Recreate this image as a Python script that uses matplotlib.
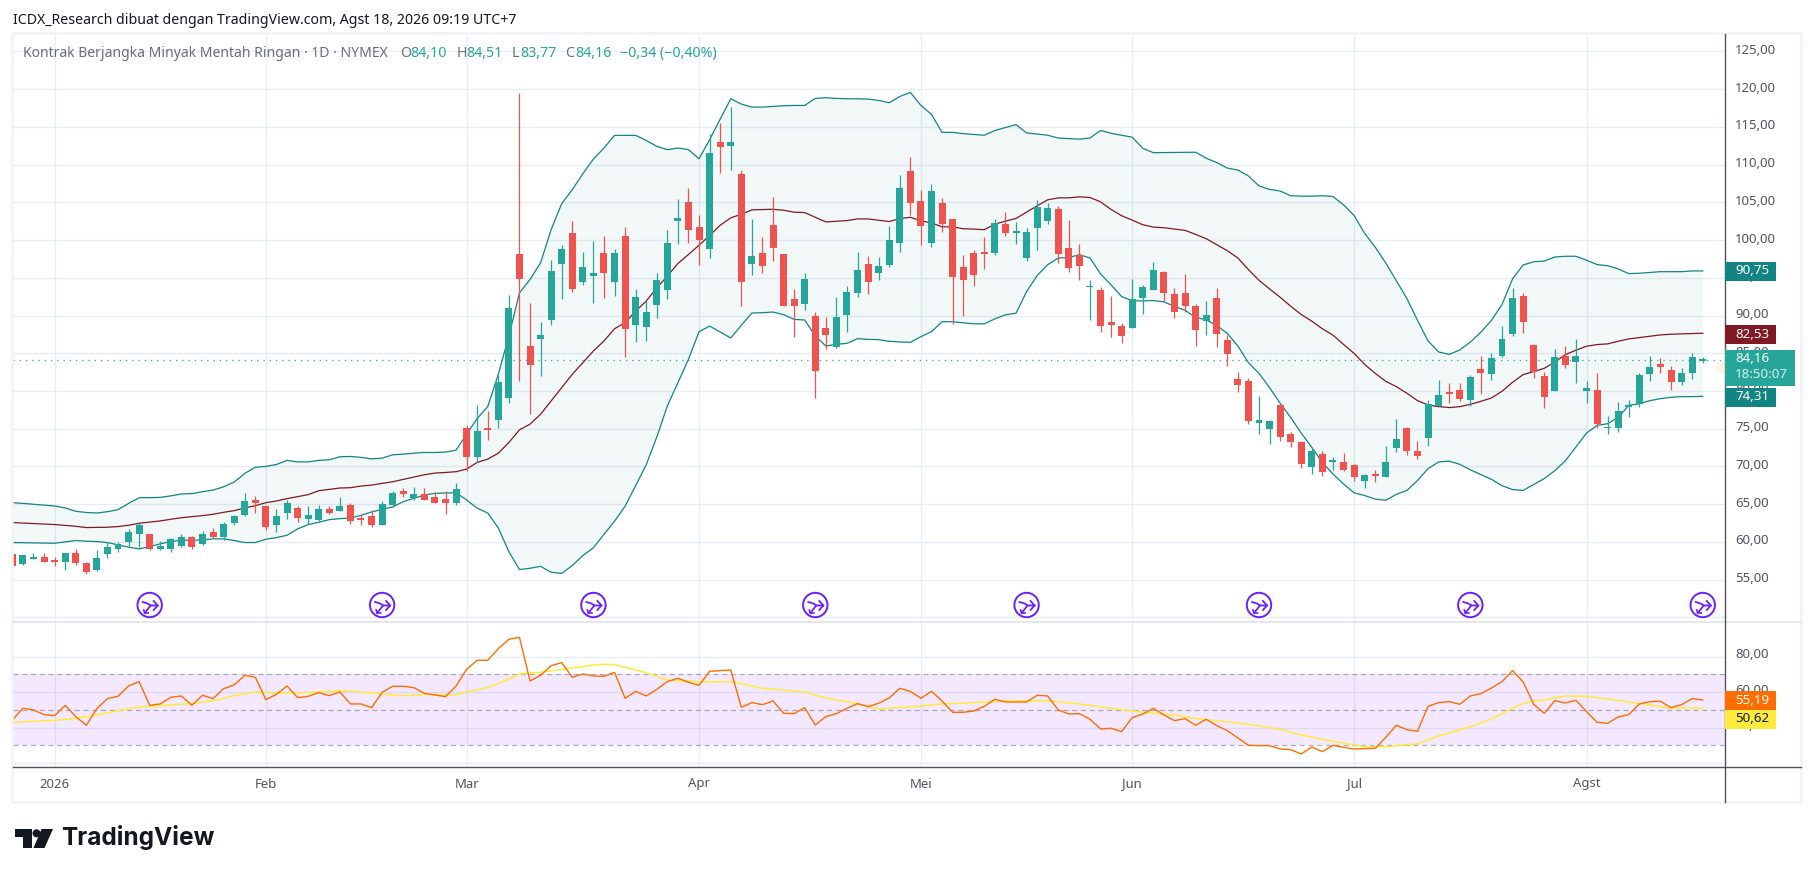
import matplotlib
matplotlib.use("Agg")
import matplotlib.pyplot as plt
from matplotlib.patches import Circle, Polygon, Rectangle

first_day = -4
opens = [58.4,57.1,57.8,58.0,57.5,57.4,58.5,57.2,56.3,58.4,59,60,61.1,61,59.1,59,59.5,60.7,59.7,61.3,60.7,62.5,63.5,65.5,64.8,62.2,63.8,64.5,63,62.9,64.4,64.1,64.9,63.1,63.4,62.2,64.9,66.7,65.8,66.3,66,65.7,65.2,
 75.07,71.28,74.95,76.17,79.08,98.09,85.92,86.84,89.36,96.76,101,94.38,95.18,98.22,94.38,100.6,88.7,88.43,91.34,93.32,102.58,105.1,101.79,98.88,113.03,112.5,108.8,96.76,98.35,102.05,98.09,92.13,91.47,89.89,88.3,85.78,90.02,92.93,96.76,95.57,96.63,99.67,109.2,105.23,99.67,104.97,102.85,96.37,
 98.28,98.3,98.28,102.11,100.93,97.62,101.59,102.51,104.1,98.94,98.02,93.79,93.39,89.16,88.63,88.37,92.33,93.39,95.77,92.86,92.99,91.28,89.3,92.33,
 86.7,81.54,81.28,75.73,74.93,78.11,74.27,73.22,69.91,71.63,70.57,70.57,70.18,68.06,68.85,68.59,72.42,75.07,72.03,73.74,77.97,79.82,80.09,
 78.85,82.96,82.3,84.69,87.61,92.65,86.15,82.04,80.04,84.69,83.89,80.04,80.18,75.1,75.13,78.0,78.32,82.3,83.63,82.83,81.24,82.43,84.10]
highs = [58.4,58.3,58.5,58.5,58.0,58.5,59.0,57.3,58.9,60,60,61.7,62.5,61,60.1,60.5,61,60.8,61.5,61.8,62.7,63.6,66.5,66.1,64.8,64.3,65.6,64.8,64.7,64.9,64.8,65.9,65.2,63.5,64.2,65.4,66.8,67.1,67.3,67.1,66.6,66.7,67.8,
 75.47,78.11,77.32,82.35,92.66,119.5,91.6,89.09,97.29,99.41,102.58,98.48,99.94,100.6,98.88,101.79,93.46,91.87,95.57,101.39,105.49,106.95,103.38,114.09,115.55,117.66,109.33,102.85,100.47,105.76,98.09,93.46,95.57,90.41,89.75,92.4,93.85,98.48,97.95,97.82,101.92,108.67,111.05,106.68,107.48,105.63,102.85,98.05,
 98.68,100.4,102.78,103.7,102.38,101.59,105.29,104.89,104.49,102.64,99.47,94.71,93.79,92.6,89.03,94.85,94.05,97.09,95.9,93.66,95.51,91.54,91.94,93.68,
 87.36,82.47,81.67,79.3,76.12,78.24,74.54,73.35,72.64,72.03,71.23,71.76,70.31,68.99,69.52,72.69,76.26,75.2,73.35,78.77,81.41,81.01,81.01,
 82.17,84.69,85.09,88.67,93.58,92.92,86.28,82.57,85.62,86.02,86.95,81.37,82.43,76.73,78.58,78.85,82.43,84.69,84.42,83.36,83.1,85.09,84.51]
lows = [56.8,57.0,57.7,57.3,56.75,56.3,56.9,55.8,56.1,57.8,58.6,59.5,59.3,58.9,58.9,58.7,59.3,59.1,59.6,60.5,60.3,62.3,63.4,63.8,61.6,61.3,63,62.7,62.4,62.8,63.7,64.1,62.4,62.2,62,62.2,64.6,65.9,65.5,65.5,65.1,63.7,64.9,
 69.43,70.62,73.48,75.07,78.42,81.33,76.92,81.95,88.7,92.13,93.06,93.99,91.6,92.27,92.53,84.46,86.45,86.58,89.62,92.13,99.54,99.67,96.63,97.56,108.93,109.33,91.2,95.31,95.57,97.16,91.2,87.11,90.68,79.04,85.52,85.65,87.77,92.4,92.8,94.65,96.37,98.48,103.38,99.41,99.14,101.13,88.83,89.98,
 93.92,96.17,98.02,100.53,99.47,97.22,98.68,102.11,96.96,95.77,94.71,89.43,87.84,87.18,86.39,88.37,90.22,93.39,91.94,89.69,90.48,85.99,87.44,85.88,
 83.26,79.82,75.6,74.27,72.95,73.35,72.56,69.78,68.99,68.72,69.52,69.38,68.06,67.14,67.93,68.59,71.89,71.5,70.97,72.69,77.97,78.37,78.7,
 78.05,79.65,81.5,84.56,87.35,87.74,81.77,77.79,80.04,83.1,81.1,78.45,75.13,74.34,74.6,76.59,77.92,81.37,82.43,80.18,80.84,81.64,83.77]
closes = [56.8,58.2,58.0,57.4,57.45,58.5,57.2,56.0,57.8,59.3,59.7,61.3,62.2,59,59.4,60.4,60.7,59.3,61,60.6,62.4,63.4,65.4,65.2,62,63.4,65.2,63.2,63.6,64.4,63.8,64.7,62.8,63.05,62.3,65,66.5,66.3,66.3,65.5,65.2,65.2,67,
 71.28,74.67,74.9,81.16,90.94,94.78,83.45,87.37,95.84,98.75,93.46,96.37,95.57,95.57,98.35,88.17,92.4,90.41,94.65,99.67,102.98,101.39,100.07,111.58,112.37,113.03,94.38,97.95,96.5,99.01,91.2,91.2,94.78,82.61,87.37,89.75,93.06,95.97,94.38,96.5,100.07,106.95,104.97,101.92,106.55,102.19,95.04,94.75,
 95.37,98.24,102.25,100.93,101.19,101.06,104.36,104.23,98.15,96.3,96.56,93.92,88.63,88.77,87.31,92.2,93.79,96.04,92.99,90.48,91.28,88.11,90.09,87.6,
 84.85,80.75,75.99,76.12,75.99,73.88,73.22,70.31,72.03,69.25,70.84,69.52,68.59,68.85,68.8,70.57,73.61,72.03,71.37,78.24,79.43,79.56,78.9,
 81.9,82.43,84.42,86.95,92.26,89.2,82.57,79.25,84.56,83.5,84.69,80.44,75.66,75.18,77.39,78.1,82.17,83.23,83.23,81.24,82.43,84.56,84.16]

upper_days = [-4,-3,0,1,2,3,4,5,6,7,8,9,10,11,12,13,14,15,16,17,18,19,20,21,22,23,24,25,26,27,28,29,30,31,32,33,34,35,36,37,38,
 39,40,41,42,43,44,45,46,47,48,49,50,51,52,53,54,55,56,57,58,59,60,61,62,63,64,65,66,67,68,69,70,71,72,73,74,75,76,77,78,79,80,81,82,83,84,85,86,88,89,91,92,94,95,97,98,99,100,102,103,104,108,109,110,
 111,112,113,114,115,116,117,118,119,120,121,122,123,124,125,126,127,128,129,130,131,132,133,134,135,136,137,138,139,140,141,142,143,144,145,146,147,148,149,150,151,152,153,154,155,156]
upper_vals = [65.2,65.1,64.76,64.5,64.05,63.9,63.83,64,64.27,65.1,65.86,65.86,65.9,66.1,66.35,66.4,66.65,66.87,67.3,67.93,69.07,69.9,70,70.26,70.8,70.6,70.6,70.8,70.88,71.28,71.32,71.2,71,71.1,71.54,71.63,71.76,71.85,71.85,71.9,72.16,
 74.28,76.35,77.94,82.21,87.3,93.0,94.78,96.98,101.39,104.83,106.68,108.8,110.74,112.2,113.87,113.87,113.87,113.2,112.42,111.98,112.2,111.98,110.78,113.3,116.03,118.72,118.02,117.62,117.62,117.71,117.8,117.84,117.84,118.77,118.86,118.77,118.72,118.72,118.68,118.5,118.2,119.03,119.56,117.84,116.65,114.27,114.27,114.1,113.89,114.52,115.3,114.2,113.89,113.52,113.37,113.52,114.52,114.15,113.63,112.16,111.58,111.64,110.85,110.27,
 109.54,109.28,108.49,107.18,106.71,106.5,105.87,105.82,105.82,105.87,105.77,104.66,103.25,100.89,99.06,96.96,94.6,92.24,89.36,86.63,85.17,84.85,85.43,86.48,87.79,89.36,91.46,94.86,96.7,97.12,97.22,97.75,97.85,97.85,97.33,96.75,96.6,96.18,95.55,95.6,95.7,95.81,95.81,95.81,95.91,95.91]

basis_days = [-4,0,2,3,5,6,7,8,10,11,12,13,14,15,16,17,18,19,20,21,22,23,24,25,26,27,28,29,30,31,32,33,34,35,36,37,38,
 39,40,41,42,43,44,45,46,47,48,49,50,51,52,53,54,55,56,57,58,59,60,61,62,63,64,65,66,67,68,69,70,71,72,73,74,75,76,77,78,79,80,81,82,83,84,85,
 86,87,88,89,90,91,92,93,94,95,96,97,98,99,100,101,102,103,104,105,106,107,108,109,110,
 111,112,113,114,115,116,117,118,119,120,121,122,123,124,125,126,127,128,129,130,131,132,
 133,134,135,136,137,138,139,140,141,142,143,144,145,146,147,148,149,150,151,152,153,154,155,156]
basis_vals = [62.56,62.3,62.07,61.9,61.94,62.03,62.2,62.47,62.78,63,63.2,63.35,63.48,63.66,63.92,64.14,64.5,64.8,65.2,65.42,65.73,66,66.26,66.78,66.96,67.14,67.18,67.4,67.53,67.75,67.97,68.28,68.6,68.9,69.12,69.2,69.3,
 69.65,70.53,70.97,71.76,73.17,74.85,75.6,76.92,78.69,80.45,82.21,83.76,85.3,86.62,88.25,89.05,90.59,91.91,93.68,95.22,96.9,98.09,99.32,100.6,101.97,102.94,103.42,104,104.04,104.08,103.95,103.69,103.64,103.02,102.4,102.49,102.58,102.8,102.8,102.63,102.45,102.85,103.02,102.54,102.27,101.75,101.75,
 101.5,101.45,101.37,102.11,102.51,102.86,103.7,104.54,105.33,105.59,105.59,105.73,105.64,105.07,104.05,103.22,102.64,102.03,101.72,101.63,101.45,101.28,100.75,100.18,99.38,
 98.59,97.62,96.08,94.67,93.52,92.42,91.23,90.13,89.25,88.24,87.4,86.17,84.98,83.52,82.33,81.28,80.57,79.7,78.72,78.15,77.93,77.8,
 77.92,78.23,78.63,79.07,79.96,81.15,82.17,82.57,83,83.85,84.82,85.4,85.93,86.15,86.24,86.59,86.9,87.08,87.26,87.43,87.52,87.57,87.61,87.65]

lower_days = [-4,0,1,2,3,4,5,6,7,8,9,10,11,12,13,14,15,16,17,18,19,20,21,22,23,24,25,26,27,28,29,30,31,32,33,34,35,36,37,38,39,40,41,42,43,44,45,46,47,48,49,50,51,52,53,54,55,56,57,58,59,60,61,62,63,64,65,66,67,68,69,70,71,72,73,74,75,76,77,78,79,80,81,82,83,84,85,
 86,87,88,89,90,91,92,93,94,95,96,97,98,99,100,101,102,103,104,105,106,107,108,109,110,
 111,112,113,114,115,116,117,118,119,120,121,122,123,124,125,126,127,128,129,130,131,132,133,134,135,136,137,138,139,140,141,142,143,144,145,146,147,148,149,150,151,152,153,154,155,156]
lower_vals = [59.91,59.82,60,60.18,60.09,60.04,59.91,59.6,59.3,59.07,59.38,59.74,60.04,60.22,60.22,60.26,60.4,60.4,60.18,59.91,59.91,60.35,60.57,60.88,61.72,62.29,62.6,62.95,63.08,63.13,63.52,63.96,64.31,64.63,65.33,65.77,66.21,66.43,66.48,66.52,65.55,64.46,63.83,61.84,58.7,56.34,56.5,56.76,55.97,55.82,56.87,58.18,59.22,61,62.74,64.73,67.45,70.23,73.9,78.02,81.11,84.2,87.86,88.6,87.81,87.02,88.7,90.33,90.37,90.46,90.11,89.49,89.4,87.28,85.96,86.18,86.31,86.93,86.84,86.8,86.58,86.49,86.45,87.2,87.86,89.18,89.18,
 89.03,88.9,88.9,89.56,90.09,90.31,93.17,95.29,96.74,97.62,97.67,98.06,97.62,95.51,94.05,92.51,91.94,91.94,91.98,91.81,91.19,90.7,89.74,89.43,88.68,
 87.62,85.95,83.74,82.33,80.44,78.37,76.48,74.41,72.51,70.53,69,67.67,66.5,66.14,65.67,65.51,66.3,66.82,68.13,69.7,70.59,70.7,70.28,69.55,68.92,68.29,67.45,66.93,66.82,67.6,68.39,69.44,70.75,72.59,74.42,75.44,75.66,76.5,78.1,78.3,78.72,78.98,79.16,79.25,79.25,79.29]

rsi_vals = [44.27,50.85,49.9,47.28,46.71,52.54,46.15,41.27,50.66,56.29,57.6,63.43,65.87,52.54,53.29,57.04,57.79,52.54,58.17,56.29,61.92,63.99,69.44,68.31,55.73,58.73,63.43,56.85,57.6,59.67,57.98,60.05,53.29,53.29,51.22,59.86,63.24,63.24,62.49,59.3,58.36,57.42,63.43,
 72.82,77.89,77.89,84.46,89.72,90.85,66.24,69.44,74.88,76.57,68.31,70.19,69.06,68.87,71.13,56.48,60.42,57.79,61.55,65.87,67.75,65.49,63.8,71.69,72.07,72.44,51.41,54.04,52.91,54.98,48.03,47.84,51.22,41.46,46.15,47.84,50.85,53.47,51.78,53.66,56.67,62.11,60.42,56.48,60.42,54.98,48.59,48.59,
 49.34,51.97,55.92,54.41,54.41,54.41,58.17,57.79,49.91,47.65,47.84,44.65,39.2,39.58,37.7,45.59,47.65,50.85,47.09,43.9,45.02,41.27,44.65,41.08,
 38.26,34.13,30,29.81,29.81,27.93,27.56,25.12,29.06,26.43,30,28.87,27.93,28.12,28.31,34.51,41.27,38.83,37.89,51.97,54.04,54.6,53.1,57.79,59.11,62.3,65.87,72.07,65.68,53.1,48.03,55.16,53.85,55.35,48.97,42.96,42.39,45.96,47.28,53.29,54.6,54.79,51.22,52.91,56.29,55.54]

ma_days = [-4,0,2,4,6,8,10,13,15,17,19,21,23,27,29,31,33,35,37,38,39,41,43,44,46,48,50,51,52,53,55,56,58,61,64,67,71,73,76,78,81,82,84,87,90,94,97,100,103,106,108,110,113,116,118,120,123,124,126,128,129,131,134,136,138,139,140,141,142,143,145,146,147,149,151,153,155,156]
ma_vals = [42.96,44.08,45.21,47.09,49.53,51.6,52.35,53.66,54.98,57.98,60.05,59.48,59.48,60.8,60.05,58.92,57.98,58.73,58.36,58.54,60.05,62.49,67.37,70.19,71.13,72.82,74.32,75.26,75.63,75.45,72.44,70.94,66.81,65.68,65.87,62.11,60.05,56.67,53.47,50.47,51.78,52.16,53.29,54.04,54.98,55.16,53.29,50.85,48.59,47.09,45.02,43.9,41.83,39.01,35.82,33.38,30.19,29.25,29.06,30.38,30.75,35.26,40.52,44.83,50.85,53.66,54.98,55.54,56.85,57.79,57.6,56.85,56.1,54.41,52.72,50.85,51.03,50.85]

month_days = [0,20,39,61,82,102,123,145]
month_labels = ["2026","Feb","Mar","Apr","Mei","Jun","Jul","Agst"]
event_days = [9,31,51,72,92,114,134,156]
price_ticks = [125,120,115,110,105,100,95,90,85,80,75,70,65,60,55]
price_tick_labels = ["125,00","120,00","115,00","110,00","105,00","100,00","95,00","90,00","85,00","80,00","75,00","70,00","65,00","60,00","55,00"]
price_bold = [120,110,100,90,70,60]
rsi_ticks = [80,60,40,20]
rsi_tick_labels = ["80,00","60,00","40,00"]
rsi_bands = [70,50,30]
last_price = 84.16

W, H = 1814, 877
FONT = "Noto Sans"
plt.rcParams["font.family"] = [FONT, "DejaVu Sans"]
fig = plt.figure(figsize=(W/100, H/100), dpi=100, facecolor="white")

L, R, TOP, SEP, AXB, FB, FR = 13, 1724.7, 33.5, 622, 767.3, 802, 1801
def box(x0, y0, x1, y1):
    return [x0/W, 1-y1/H, (x1-x0)/W, (y1-y0)/H]

x0_px, dx_px = 54.6, 10.565
xlim = ((L-x0_px)/dx_px, (R-x0_px)/dx_px)
def xpx(d): return x0_px + d*dx_px
def ypx(p): return 51.4 + (125-p)*7.546
def yrsi(p): return 674.3 + (70-p)*1.775

ax = fig.add_axes(box(L, TOP, R, SEP))
ax.set_xlim(*xlim)
ax.set_ylim(125-(SEP-51.4)/7.546, 125+(51.4-TOP)/7.546)
rx = fig.add_axes(box(L, SEP, R, AXB))
rx.set_xlim(*xlim)
rx.set_ylim(70-(AXB-674.3)/1.775, 70+(674.3-SEP)/1.775)

GRID = "#e6edf3"
for a in (ax, rx):
    a.set_xticks([]); a.set_yticks([])
    for s in a.spines.values():
        s.set_visible(False)
    for d in month_days:
        a.axvline(d, color=GRID, lw=1.0, zorder=1)
for p in price_ticks + [50]:
    ax.axhline(p, color=GRID, lw=1.0, zorder=1)
for p in rsi_ticks:
    rx.axhline(p, color=GRID, lw=1.0, zorder=1)

# Bollinger
TEAL = "#138484"; MAROON = "#801922"
poly = list(zip(upper_days, upper_vals)) + list(zip(lower_days, lower_vals))[::-1]
ax.add_patch(Polygon(poly, closed=True, facecolor=TEAL, alpha=0.05, edgecolor="none", zorder=2))
ax.plot(upper_days, upper_vals, color=TEAL, lw=0.9, zorder=3)
ax.plot(lower_days, lower_vals, color=TEAL, lw=0.9, zorder=3)
ax.plot(basis_days, basis_vals, color=MAROON, lw=0.9, zorder=3)

# last price line
ax.plot(list(xlim), [last_price, last_price], color="#26a69a", lw=0.9, ls=(0, (1, 4)), zorder=3)

# candles
UP, DOWN = "#26a69a", "#ef5350"
for k, (o, h, l, c) in enumerate(zip(opens, highs, lows, closes)):
    d = first_day + k
    col = UP if c >= o else DOWN
    ax.vlines(d, l, h, color=col, lw=0.9, zorder=4)
    lo, hi = min(o, c), max(o, c)
    if hi - lo < 0.22:
        mid = (hi+lo)/2; lo, hi = mid-0.11, mid+0.11
    ax.add_patch(Rectangle((d-0.33, lo), 0.66, hi-lo, facecolor=col, edgecolor="none", zorder=5))

# RSI
rx.axhspan(rsi_bands[-1], rsi_bands[0], color="#9c27ff", alpha=0.10, lw=0, zorder=2)
for b in rsi_bands:
    rx.axhline(b, color="#787b86", alpha=0.6, lw=0.9, ls=(0, (4, 3)), zorder=3)
rsi_days = [first_day + k for k in range(len(rsi_vals))]
rx.plot(ma_days, ma_vals, color="#ffeb3b", lw=1.1, zorder=4)
rx.plot(rsi_days, rsi_vals, color="#ff6d00", lw=1.0, zorder=5)

# overlay in pixels
ov = fig.add_axes([0, 0, 1, 1], zorder=10)
ov.set_xlim(0, W); ov.set_ylim(H, 0); ov.axis("off"); ov.patch.set_alpha(0)

ov.add_patch(Rectangle((L-1, TOP-1), FR-L+1, FB-TOP+1, fill=False, edgecolor="#f0f3fa", lw=1.8))
ov.plot([L, FR], [SEP, SEP], color="#e0e3eb", lw=1.2)
ov.plot([L, FR], [AXB, AXB], color="#50535e", lw=1.0)
ov.plot([R, R], [TOP, FB], color="#50535e", lw=1.0)

# pale dot beside the current-price tag
ov.add_patch(Circle((1722, 368), 6, facecolor="#fdf3e3", edgecolor="none", zorder=1))
ov.add_patch(Rectangle((R+0.5, 350), 20, 36, facecolor="white", edgecolor="none", zorder=1.5))

GREY = "#50535e"
for p, t in zip(price_ticks, price_tick_labels):
    bold = p in price_bold
    ov.text(1735, ypx(p)-1, t, fontsize=9.45, color=GREY, va="center", ha="left",
            fontweight="bold" if bold else "normal", zorder=2)
for p, t in zip(rsi_ticks, rsi_tick_labels):
    ov.text(1735, yrsi(p)-2, t, fontsize=9.45, color=GREY, va="center", ha="left", zorder=2)
for d, t in zip(month_days, month_labels):
    ov.text(xpx(d), 784, t, fontsize=9.45, color=GREY, va="center", ha="center",
            fontweight="bold" if t == "2026" else "normal")

def tag(y0, y1, txt, bg, fg="white", x1=1775.6, fs=9.6):
    ov.add_patch(Rectangle((R+0.5, y0), x1-R-0.5, y1-y0, facecolor=bg, edgecolor="none", zorder=6))
    ov.text(1735, (y0+y1)/2-0.5, txt, color=fg, fontsize=fs, va="center", ha="left", zorder=7)

tag(262, 281, "90,75", TEAL)
tag(325, 344, "82,53", MAROON)
tag(387.5, 406.5, "74,31", TEAL)
ov.add_patch(Rectangle((R+0.5, 350), 1795-R-0.5, 35.5, facecolor="#26a69a", edgecolor="none", zorder=6))
ov.text(1735, 358.5, "84,16", color="white", fontsize=9.6, va="center", ha="left", zorder=7)
ov.text(1735, 374.5, "18:50:07", color="#d4f0ed", fontsize=9.6, va="center", ha="left", zorder=7)
tag(691, 710, "55,19", "#ff6d00")
tag(710, 729, "50,62", "#ffeb3b", fg="#131722")

# title + legend
ov.text(13, 20, "ICDX_Research dibuat dengan TradingView.com, Agst 18, 2026 09:19 UTC+7",
        fontsize=10.2, color="#131722", va="center", ha="left")
LG = "#6a6d78"; VAL = "#26a69a"
ov.text(23, 53.5, "Kontrak Berjangka Minyak Mentah Ringan · 1D · NYMEX", fontsize=10.05, color=LG, va="center", ha="left")
for x, t, col in [(400, "O", LG), (410, "84,10", VAL), (456.5, "H", LG), (466, "84,51", VAL),
                  (512, "L", LG), (520, "83,77", VAL), (565.5, "C", LG), (575, "84,16", VAL),
                  (620.5, "−0,34 (−0,40%)", VAL)]:
    ov.text(x, 53.5, t, fontsize=10.2, color=col, va="center", ha="left")

# event icons
PUR = "#6a1fff"
for d in event_days:
    cx, cy = xpx(d), 605
    ov.add_patch(Circle((cx, cy), 12.2, fill=False, edgecolor=PUR, lw=1.4, zorder=6))
    ov.plot([cx-7, cx-2, cx+1, cx+8], [cy-3, cy-1.5, cy+0.5, cy+0.5], color=PUR, lw=1.3, zorder=6)
    ov.plot([cx+4, cx+8, cx+4], [cy-4, cy+0.5, cy+5], color=PUR, lw=1.3, zorder=6)
    ov.plot([cx-5, cx+1], [cy+8, cy+0.5], color=PUR, lw=1.3, zorder=6)
    ov.plot([cx-6, cx-5, cx-1.5], [cy+5, cy+8, cy+8], color=PUR, lw=1.2, zorder=6)

# logo
K = "#131722"
ov.add_patch(Polygon([(15, 829), (32, 829), (32, 848), (23, 848), (23, 837), (15, 837)], closed=True, facecolor=K, edgecolor="none"))
ov.add_patch(Circle((36.5, 833.3), 4.0, facecolor=K, edgecolor="none"))
ov.add_patch(Polygon([(41.5, 829), (53, 829), (44.5, 848), (33.5, 848)], closed=True, facecolor=K, edgecolor="none"))
ov.text(61.5, 838, "TradingView", family="Inter", fontsize=17.6, fontweight="bold", color=K, va="center", ha="left")

fig.savefig("out.png", dpi=100)
